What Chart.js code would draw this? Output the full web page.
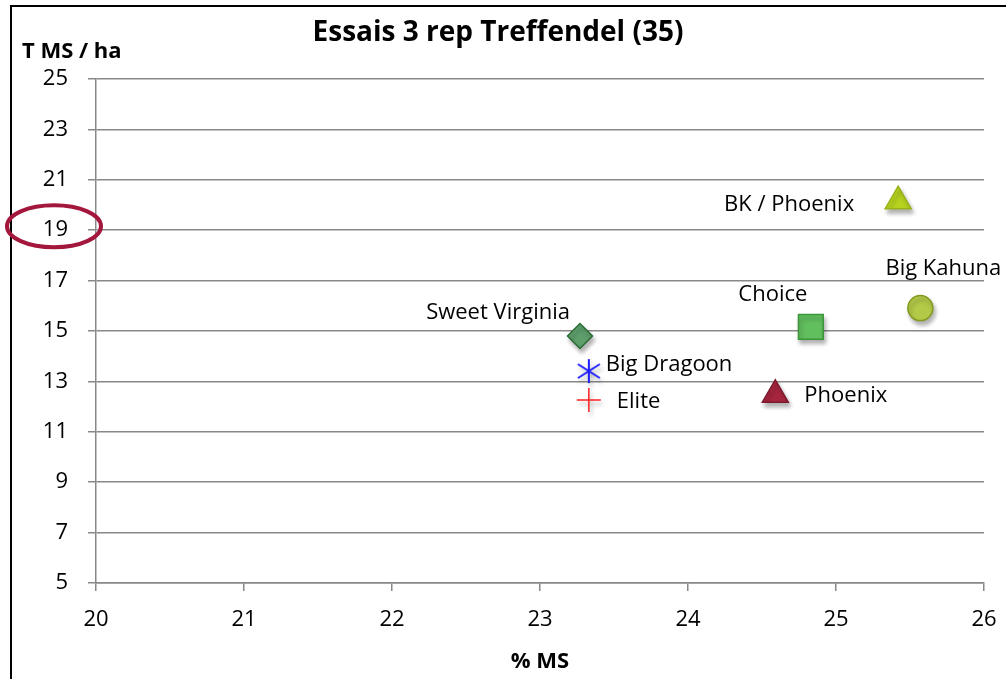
<!DOCTYPE html>
<html>
<head>
<meta charset="utf-8">
<script src="https://cdn.jsdelivr.net/npm/chart.js@4/dist/chart.umd.min.js"></script>
<style>
html, body { margin: 0; padding: 0; background: #fff; }
#cadre { width: 1006px; height: 679px; }
</style>
</head>
<body>
<div id="cadre"><canvas id="ChartEssais"></canvas></div>
<script>
// données
const varietes = ['Sweet Virginia', 'Big Dragoon', 'Elite', 'Phoenix', 'Choice', 'Big Kahuna', 'BK / Phoenix'];
const pctMS = [23.27, 23.33, 23.33, 24.59, 24.83, 25.57, 25.42];
const tMSha = [14.80, 13.41, 12.26, 12.47, 15.16, 15.91, 20.15];
const ticksX = [20, 21, 22, 23, 24, 25, 26];
const ticksY = [5, 7, 9, 11, 13, 15, 17, 19, 21, 23, 25];

const police = '"Open Sans", "Noto Sans", sans-serif';

// astérisque bleu (Big Dragoon)
const asterisque = document.createElement('canvas');
asterisque.width = 26;
asterisque.height = 26;
(() => {
    const c = asterisque.getContext('2d');
    c.strokeStyle = '#1f1fff';
    c.lineWidth = 2;
    c.beginPath();
    c.moveTo(13, 1); c.lineTo(13, 25);
    c.moveTo(2, 6); c.lineTo(24, 20);
    c.moveTo(2, 20); c.lineTo(24, 6);
    c.stroke();
})();

// style de chaque marqueur
const marqueurs = [
    { style: 'rectRot', r: 12.5, fond: '#5e9f6c', bord: '#2c6b36' },
    { style: asterisque, r: 13, fond: '#1f1fff', bord: '#1f1fff' },
    { style: 'cross', r: 12, fond: '#ff2020', bord: '#ff2020' },
    { style: 'triangle', r: 15, fond: '#a8253f', bord: '#7e1a2e' },
    { style: 'rect', r: 17.5, fond: '#62bf5e', bord: '#3c963a' },
    { style: 'circle', r: 12.5, fond: '#b3c948', bord: '#7f9a1e' },
    { style: 'triangle', r: 15, fond: '#b7d320', bord: '#98b31a' }
];

// placement des étiquettes par rapport au point
const etiquettes = [
    { dx: -10, dy: -23, align: 'right' },
    { dx: 17, dy: -6, align: 'left' },
    { dx: 28, dy: 2, align: 'left' },
    { dx: 29, dy: 1, align: 'left' },
    { dx: -38, dy: -32, align: 'center' },
    { dx: 23, dy: -39, align: 'center' },
    { dx: -44, dy: 4, align: 'right' }
];

const datasets = varietes.map((v, i) => ({
    label: v,
    data: [{ x: pctMS[i], y: tMSha[i] }],
    pointStyle: marqueurs[i].style,
    pointRadius: marqueurs[i].r,
    pointHoverRadius: marqueurs[i].r,
    backgroundColor: marqueurs[i].fond,
    borderColor: marqueurs[i].bord,
    borderWidth: 1.5
}));

const decor = {
    id: 'decor',
    beforeDatasetsDraw(chart) {
        const ctx = chart.ctx;
        ctx.save();
        ctx.shadowColor = 'rgba(0,0,0,0.3)';
        ctx.shadowOffsetX = 2;
        ctx.shadowOffsetY = 4;
        ctx.shadowBlur = 4;
    },
    afterDatasetsDraw(chart) {
        const ctx = chart.ctx;
        ctx.restore();

        // étiquettes des points
        ctx.save();
        ctx.font = '22px ' + police;
        ctx.fillStyle = '#000';
        ctx.textBaseline = 'middle';
        chart.data.datasets.forEach((d, i) => {
            const p = chart.getDatasetMeta(i).data[0];
            const e = etiquettes[i];
            ctx.textAlign = e.align;
            ctx.fillText(d.label, p.x + e.dx, p.y + e.dy);
        });
        ctx.restore();
    },
    afterDraw(chart) {
        const ctx = chart.ctx;
        const y = chart.scales.y;
        ctx.save();
        // cadre
        ctx.strokeStyle = '#000';
        ctx.lineWidth = 2;
        ctx.beginPath();
        ctx.moveTo(11, chart.height + 5);
        ctx.lineTo(11, 6);
        ctx.lineTo(chart.width + 5, 6);
        ctx.stroke();

        // titre
        ctx.fillStyle = '#000';
        ctx.textBaseline = 'middle';
        ctx.textAlign = 'center';
        ctx.font = 'bold 28px ' + police;
        ctx.fillText('Essais 3 rep Treffendel (35)', 498, 33);

        // titre axe Y
        ctx.textAlign = 'left';
        ctx.font = 'bold 22px ' + police;
        ctx.fillText('T MS / ha', 22, 52);

        // ellipse rouge autour de 19
        ctx.strokeStyle = '#a3173d';
        ctx.lineWidth = 4;
        ctx.beginPath();
        ctx.ellipse(54, y.getPixelForValue(19) - 4, 47, 21, 0, 0, Math.PI * 2);
        ctx.stroke();
        ctx.restore();
    }
};

const chartEssais = new Chart(document.getElementById('ChartEssais'), {
    type: 'scatter',
    data: { datasets: datasets },
    options: {
        responsive: true,
        maintainAspectRatio: false,
        animation: false,
        layout: { padding: { top: 79, right: 22, left: 0, bottom: 0 } },
        plugins: {
            legend: { display: false },
            tooltip: { enabled: false }
        },
        scales: {
            x: {
                type: 'linear',
                min: 20,
                max: 26,
                afterBuildTicks: s => { s.ticks = ticksX.map(v => ({ value: v })); },
                afterFit: s => { s.height = 96; s.paddingLeft = 0; s.paddingRight = 0; },
                grid: { drawOnChartArea: false, drawTicks: true, tickLength: 8, color: '#888', lineWidth: 1.5 },
                border: { color: '#888', width: 1.5 },
                ticks: { color: '#000', font: { family: police, size: 22 }, padding: 16, maxRotation: 0 },
                title: { display: true, text: '% MS', color: '#000', font: { family: police, size: 22, weight: 'bold' }, padding: { top: 0, bottom: 4 } }
            },
            y: {
                type: 'linear',
                min: 5,
                max: 25,
                afterBuildTicks: s => { s.ticks = ticksY.map(v => ({ value: v })); },
                afterFit: s => { s.width = 96; s.paddingTop = 0; s.paddingBottom = 0; },
                grid: { drawOnChartArea: true, drawTicks: true, tickLength: 8, color: '#888', lineWidth: 1.5 },
                border: { color: '#888', width: 1.5 },
                ticks: { color: '#000', font: { family: police, size: 22 }, padding: 20 }
            }
        }
    },
    plugins: [decor]
});
</script>
</body>
</html>
